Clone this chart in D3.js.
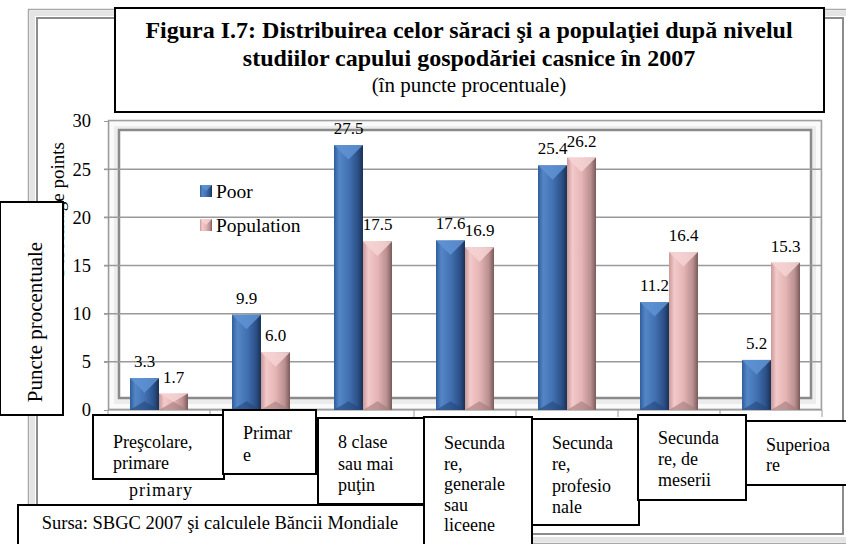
<!DOCTYPE html>
<html>
<head>
<meta charset="utf-8">
<script src="https://cdn.jsdelivr.net/npm/d3@7"></script>
<style>
  body { margin: 0; background: #fff; }
  svg { display: block; }
  svg text { font-family: "Liberation Serif", "DejaVu Serif", serif; }
</style>
</head>
<body>
<svg id="chart" width="846" height="544"></svg>
<script>
// data
const categories = ['Prescolare', 'Primare', '8 clase', 'Generale', 'Profesionale', 'Meserii', 'Superioare'];
const seriesNames = ['Poor', 'Population'];
const poor = [3.3, 9.9, 27.5, 17.6, 25.4, 11.2, 5.2];
const population = [1.7, 6.0, 17.5, 16.9, 26.2, 16.4, 15.3];
const yTicks = [0, 5, 10, 15, 20, 25, 30];
const categoryText = [
    ['Preşcolare,', 'primare'],
    ['Primar', 'e'],
    ['8 clase', 'sau mai', 'puţin'],
    ['Secunda', 're,', 'generale', 'sau', 'liceene'],
    ['Secunda', 're,', 'profesio', 'nale'],
    ['Secunda', 're, de', 'meserii'],
    ['Superioa', 're']
];
const titleLines = [
    'Figura I.7: Distribuirea celor săraci şi a populaţiei după nivelul',
    'studiilor capului gospodăriei casnice în 2007'
];
const subtitle = '(în puncte procentuale)';
const yTitle = 'Puncte procentuale';
const hiddenYTitle = 'Percentage points';
const hiddenCatText = 'primary';
const sourceText = 'Sursa: SBGC 2007 şi calculele Băncii Mondiale';

// layout of the pasted text boxes (x, y, w, h, first baseline, line step)
const catBoxes = [
    {x: 93, y: 415, w: 131, h: 64, ty: 448, dy: 21},
    {x: 223, y: 410, w: 93, h: 64, ty: 439, dy: 22},
    {x: 318, y: 418, w: 106, h: 86, ty: 448, dy: 21.5},
    {x: 424, y: 417, w: 108, h: 140, ty: 449, dy: 20.5},
    {x: 532, y: 419, w: 107, h: 106, ty: 449, dy: 21.3},
    {x: 638, y: 415, w: 108, h: 85, ty: 444, dy: 21},
    {x: 746, y: 421, w: 110, h: 64, ty: 451, dy: 20}
];
const drawOrder = [0, 1, 2, 3, 4, 6, 5];

const svg = d3.select('#chart');
const defs = svg.append('defs');

const colors = {
    Poor: {stops: ['#2f5d9c', '#5486c6', '#4372b3', '#2c5189', '#1a3255'], top: '#5f93d3', bottom: '#24467a'},
    Population: {stops: ['#c99999', '#f3c9c9', '#e6b5b5', '#b98f8f', '#7a5a5a'], top: '#f6d4d4', bottom: '#a27c7c'}
};
seriesNames.forEach(s => {
    const g = defs.append('linearGradient').attr('id', 'grad-' + s)
        .attr('x1', 0).attr('x2', 1).attr('y1', 0).attr('y2', 0);
    [0, 0.18, 0.5, 0.82, 1].forEach((o, i) => {
        g.append('stop').attr('offset', o).attr('stop-color', colors[s].stops[i]);
    });
});

// outer frame
const frame = svg.append('g').attr('class', 'outer-frame').attr('fill', 'none');
frame.append('rect').attr('x', 28.5).attr('y', 9.5).attr('width', 826).attr('height', 534)
    .attr('stroke', '#a8a8a8').attr('stroke-width', 1.5);
frame.append('rect').attr('x', 32.5).attr('y', 13.5).attr('width', 818).attr('height', 526)
    .attr('stroke', '#e4e4e4').attr('stroke-width', 5);
frame.append('rect').attr('x', 37).attr('y', 18).attr('width', 806).attr('height', 516)
    .attr('stroke', '#8c8c8c').attr('stroke-width', 2);

// scales
const x = d3.scaleBand().domain(categories).range([108, 822]);
const xs = d3.scaleBand().domain(seriesNames).range([22, 80]);
const y = d3.scaleLinear().domain([0, 30]).range([410, 121]);

// plot area wall
const wall = svg.append('g').attr('class', 'wall').attr('fill', 'none');
wall.append('rect').attr('x', 108.5).attr('y', 120.5).attr('width', 713).attr('height', 289)
    .attr('fill', '#ececec').attr('stroke', '#a0a0a0').attr('stroke-width', 1.5);
wall.append('rect').attr('x', 112).attr('y', 124).attr('width', 706).attr('height', 282)
    .attr('stroke', '#fafafa').attr('stroke-width', 4);
wall.append('rect').attr('x', 119).attr('y', 130).attr('width', 692).attr('height', 268)
    .attr('fill', '#fff').attr('stroke', '#8a8a8a').attr('stroke-width', 2.5);

// gridlines
svg.append('g').attr('class', 'grid')
    .selectAll('line').data(yTicks.filter(d => d > 0 && d < 30)).join('line')
    .attr('x1', 104).attr('x2', 822)
    .attr('y1', d => y(d)).attr('y2', d => y(d))
    .attr('stroke', '#9a9a9a').attr('stroke-width', 1.5);

// y axis
const yAxis = svg.append('g').attr('transform', 'translate(108,0)')
    .call(d3.axisLeft(y).tickValues(yTicks).tickSize(4).tickPadding(13).tickFormat(d3.format('d')))
    .attr('font-family', null);
yAxis.select('.domain').attr('stroke', '#9a9a9a');
yAxis.selectAll('.tick line').attr('stroke', '#9a9a9a');
yAxis.selectAll('.tick text').attr('font-size', 18.5).attr('fill', '#000');

// x axis line and category ticks
const xAxis = svg.append('g').attr('class', 'x-axis').attr('stroke', '#9a9a9a');
xAxis.append('line').attr('x1', 108).attr('x2', 822).attr('y1', 410).attr('y2', 410);
xAxis.selectAll('line.t').data(categories.concat(['end'])).join('line').attr('class', 't')
    .attr('x1', d => d === 'end' ? x.range()[1] : x(d))
    .attr('x2', d => d === 'end' ? x.range()[1] : x(d))
    .attr('y1', 410).attr('y2', 417);

// bars
const rows = categories.map((c, i) => ({c, values: [
    {s: 'Poor', v: poor[i]}, {s: 'Population', v: population[i]}
]}));
const groups = svg.append('g').attr('class', 'bars')
    .selectAll('g').data(rows).join('g')
    .attr('transform', d => `translate(${x(d.c)},0)`);
const bar = groups.selectAll('g').data(d => d.values).join('g');
bar.append('rect')
    .attr('x', d => xs(d.s)).attr('width', xs.bandwidth())
    .attr('y', d => y(d.v)).attr('height', d => y(0) - y(d.v))
    .attr('fill', d => `url(#grad-${d.s})`);
bar.append('path')
    .attr('d', d => {
        const x0 = xs(d.s), w = xs.bandwidth(), t = y(d.v);
        const dep = Math.min(w * 0.5, (y(0) - t) / 2);
        return `M${x0},${t}L${x0 + w},${t}L${x0 + w / 2},${t + dep}Z`;
    })
    .attr('fill', d => colors[d.s].top).attr('opacity', 0.85);
bar.append('path')
    .attr('d', d => {
        const x0 = xs(d.s), w = xs.bandwidth(), b = y(0);
        const dep = Math.min(w * 0.3, (b - y(d.v)) / 2);
        return `M${x0},${b}L${x0 + w},${b}L${x0 + w / 2},${b - dep}Z`;
    })
    .attr('fill', d => colors[d.s].bottom).attr('opacity', 0.6);
bar.append('text')
    .attr('x', d => xs(d.s) + xs.bandwidth() / 2)
    .attr('y', d => y(d.v) - 11)
    .attr('text-anchor', 'middle').attr('font-size', 17)
    .text(d => d3.format('.1f')(d.v));

// legend
const legend = svg.append('g').attr('class', 'legend').attr('transform', 'translate(200,185)');
const li = legend.selectAll('g').data(seriesNames).join('g')
    .attr('transform', (d, i) => `translate(0,${i * 34})`);
li.append('rect').attr('width', 12).attr('height', 12)
    .attr('fill', d => `url(#grad-${d})`);
li.append('path').attr('d', 'M0,0L12,0L6,6Z').attr('fill', d => colors[d].top).attr('opacity', 0.85);
li.append('text').attr('x', 16).attr('y', 13).attr('font-size', 19.5).text(d => d);

// title box
const tb = svg.append('g').attr('class', 'title');
tb.append('rect').attr('x', 115).attr('y', 8).attr('width', 709).attr('height', 104)
    .attr('fill', '#fff').attr('stroke', '#000').attr('stroke-width', 2);
tb.selectAll('text.t').data(titleLines).join('text').attr('class', 't')
    .attr('x', 469).attr('y', (d, i) => 38 + i * 28)
    .attr('text-anchor', 'middle').attr('font-size', 24).attr('font-weight', 'bold')
    .text(d => d);
tb.append('text').attr('x', 469).attr('y', 92).attr('text-anchor', 'middle')
    .attr('font-size', 21).text(subtitle);

// y axis titles
svg.append('text').attr('transform', 'translate(57,142) rotate(-90)')
    .attr('text-anchor', 'end').attr('dy', '0.35em').attr('font-size', 19)
    .text(hiddenYTitle);
svg.append('rect').attr('x', 0).attr('y', 202).attr('width', 63).attr('height', 213)
    .attr('fill', '#fff').attr('stroke', '#000').attr('stroke-width', 2);
svg.append('text').attr('transform', 'translate(35,322) rotate(-90)')
    .attr('text-anchor', 'middle').attr('dy', '0.35em').attr('font-size', 21)
    .text(yTitle);

// leftover category text under the pasted boxes
svg.append('text').attr('x', 161).attr('y', 496).attr('text-anchor', 'middle')
    .attr('font-size', 18).attr('letter-spacing', 1).text(hiddenCatText);

// category label boxes
const cb = svg.append('g').attr('class', 'cat-boxes')
    .selectAll('g').data(drawOrder).join('g');
cb.append('rect')
    .attr('x', i => catBoxes[i].x).attr('y', i => catBoxes[i].y)
    .attr('width', i => catBoxes[i].w).attr('height', i => catBoxes[i].h)
    .attr('fill', '#fff').attr('stroke', '#000').attr('stroke-width', 2);
cb.each(function(i) {
    d3.select(this).selectAll('text').data(categoryText[i]).join('text')
        .attr('x', catBoxes[i].x + 20)
        .attr('y', (d, k) => catBoxes[i].ty + k * catBoxes[i].dy)
        .attr('font-size', 18).text(d => d);
});

// source box
svg.append('rect').attr('x', 18).attr('y', 505).attr('width', 406).attr('height', 50)
    .attr('fill', '#fff').attr('stroke', '#000').attr('stroke-width', 2);
svg.append('text').attr('x', 220).attr('y', 529).attr('text-anchor', 'middle')
    .attr('font-size', 18.5).text(sourceText);
</script>
</body>
</html>
